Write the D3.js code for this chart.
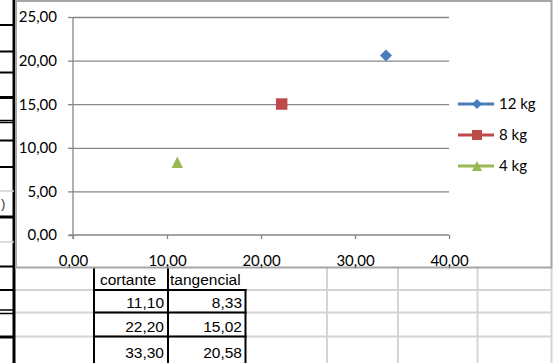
<!DOCTYPE html>
<html><head><meta charset="utf-8">
<script src="https://cdn.jsdelivr.net/npm/d3@7"></script>
<style>body{margin:0;background:#fff;overflow:hidden} svg{display:block}</style>
</head><body><svg id="c" width="558" height="363"></svg>
<script>
// ---- data ----
const seriesNames = ["12 kg", "8 kg", "4 kg"];
const cortante = [33.30, 22.20, 11.10];     // x values per series
const tangencial = [20.58, 15.02, 8.33];    // y values per series
const seriesColors = ["#4a7ebb", "#be4b48", "#98b954"];
const xTicks = [0, 10, 20, 30, 40];
const yTicks = [0, 5, 10, 15, 20, 25];
const tableHeader = ["cortante", "tangencial"];
const tableCortante = [11.10, 22.20, 33.30];
const tableTangencial = [8.33, 15.02, 20.58];

const svg = d3.select("#c");
const loc = d3.formatLocale({decimal: ",", thousands: ".", grouping: [3], currency: ["", ""]});
const fmt = loc.format(".2f");
const axisFont = "Lato, 'DejaVu Sans', sans-serif";
const cellFont = "'Liberation Sans', Arial, sans-serif";

// ---- spreadsheet background ----
const sheet = svg.append("g");
// light grid
[290, 312.5, 336.5].forEach(y => sheet.append("line").attr("x1", 15).attr("x2", 552).attr("y1", y).attr("y2", y).attr("stroke", "#d4d4d4").attr("stroke-width", 2));
[327, 398, 477.5, 551.5].forEach(x => sheet.append("line").attr("x1", x).attr("x2", x).attr("y1", 268).attr("y2", 363).attr("stroke", "#d4d4d4").attr("stroke-width", 2));
// left row-header remnants
sheet.append("line").attr("x1", 14).attr("x2", 14).attr("y1", 0).attr("y2", 363).attr("stroke", "#000").attr("stroke-width", 3);
[[25,2],[51.5,2],[72.5,2],[97.5,3],[120.5,1.5],[122.5,1.5],[140.5,2],[167,2],[217,3],[266.5,2],[290,2],[310,1.5],[313.5,1.5],[337,3]].forEach(([y, w]) =>
  sheet.append("line").attr("x1", 0).attr("x2", 14).attr("y1", y).attr("y2", y).attr("stroke", "#000").attr("stroke-width", w));
sheet.append("line").attr("x1", 0).attr("x2", 14).attr("y1", 191).attr("y2", 191).attr("stroke", "#d0d0d0").attr("stroke-width", 1.5);
sheet.append("line").attr("x1", 0).attr("x2", 14).attr("y1", 242).attr("y2", 242).attr("stroke", "#d0d0d0").attr("stroke-width", 1.5);
sheet.append("text").attr("x", 1).attr("y", 208).attr("font-family", cellFont).attr("font-size", 13).attr("fill", "#333").text(")");

// table borders
const tb = sheet.append("g").attr("stroke", "#000").attr("stroke-width", 2);
tb.append("line").attr("x1", 94).attr("x2", 94).attr("y1", 268).attr("y2", 363);
tb.append("line").attr("x1", 168).attr("x2", 168).attr("y1", 268).attr("y2", 363);
tb.append("line").attr("x1", 245.5).attr("x2", 245.5).attr("y1", 289).attr("y2", 363);
[290, 312.5, 336.5].forEach(y => tb.append("line").attr("x1", 93).attr("x2", 246.5).attr("y1", y).attr("y2", y));
// table text
sheet.append("text").attr("x", 100).attr("y", 285).attr("font-family", cellFont).attr("font-size", 15.5).text(tableHeader[0]);
sheet.append("text").attr("x", 170).attr("y", 285).attr("font-family", cellFont).attr("font-size", 15.5).text(tableHeader[1]);
const rowBase = [308, 331.5, 358];
tableCortante.forEach((v, i) => {
  sheet.append("text").attr("x", 164).attr("y", rowBase[i]).attr("text-anchor", "end").attr("font-family", cellFont).attr("font-size", 15.5).text(fmt(v));
  sheet.append("text").attr("x", 242).attr("y", rowBase[i]).attr("text-anchor", "end").attr("font-family", cellFont).attr("font-size", 15.5).text(fmt(tableTangencial[i]));
});

// ---- chart box ----
svg.append("rect").attr("x", 16).attr("y", 1).attr("width", 535.5).attr("height", 266.5)
  .attr("fill", "#fff").attr("stroke", "#a6a6a6").attr("stroke-width", 2);

const x = d3.scaleLinear().domain([0, 40]).range([73, 449]);
const y = d3.scaleLinear().domain([0, 25]).range([235, 17]);
const grey = "#868686";

// gridlines
svg.append("g").attr("transform", `translate(${x(0)},0)`)
  .call(d3.axisLeft(y).tickValues(yTicks.filter(d => d > 0)).tickSize(-(x(40) - x(0))).tickFormat(""))
  .call(g => g.select(".domain").remove())
  .call(g => g.selectAll("line").attr("stroke", grey).attr("stroke-width", 1.3));

// y axis
svg.append("g").attr("transform", `translate(${x(0)},0)`)
  .call(d3.axisLeft(y).tickValues(yTicks).tickSize(5).tickPadding(11).tickFormat(fmt).tickSizeOuter(0))
  .call(g => g.select(".domain").attr("stroke", grey).attr("stroke-width", 1.3).attr("d", `M0,${y(25)}V${y(0) + 4}`))
  .call(g => g.selectAll("line").attr("stroke", grey).attr("stroke-width", 1.3))
  .call(g => g.selectAll("text").attr("font-family", axisFont).attr("font-size", 15).attr("fill", "#000"));

// x axis
svg.append("g").attr("transform", `translate(0,${y(0)})`)
  .call(d3.axisBottom(x).tickValues(xTicks).tickSize(4).tickPadding(16).tickFormat(fmt).tickSizeOuter(0))
  .call(g => g.select(".domain").attr("stroke", grey).attr("stroke-width", 1.3).attr("d", `M${x(0) - 4},0H${x(40)}`))
  .call(g => g.selectAll("line").attr("stroke", grey).attr("stroke-width", 1.3))
  .call(g => g.selectAll("text").attr("font-family", axisFont).attr("font-size", 15).attr("fill", "#000"));

// markers
const diamond = {draw(ctx, size) { const r = Math.sqrt(size) / 2; ctx.moveTo(0, -r); ctx.lineTo(r, 0); ctx.lineTo(0, r); ctx.lineTo(-r, 0); ctx.closePath(); }};
const square = {draw(ctx, size) { const r = Math.sqrt(size) / 2; ctx.rect(-r, -r, 2 * r, 2 * r); }};
const triangle = {draw(ctx, size) { const r = Math.sqrt(size) / 2; ctx.moveTo(0, -r); ctx.lineTo(r, r); ctx.lineTo(-r, r); ctx.closePath(); }};
const symbolTypes = [diamond, square, triangle];
const plotSizes = [12 * 12, 11.5 * 11.5, 11.5 * 11.5];

seriesNames.forEach((name, i) => {
  svg.append("path")
    .attr("d", d3.symbol().type(symbolTypes[i]).size(plotSizes[i])())
    .attr("transform", `translate(${x(cortante[i])},${y(tangencial[i])})`)
    .attr("fill", seriesColors[i]);
});

// legend
const legY = [104, 135, 166];
const legSizes = [10 * 10, 10 * 10, 10 * 10];
seriesNames.forEach((name, i) => {
  const g = svg.append("g").attr("transform", `translate(0,${legY[i]})`);
  g.append("line").attr("x1", 458).attr("x2", 494).attr("y1", 0).attr("y2", 0).attr("stroke", seriesColors[i]).attr("stroke-width", 3);
  g.append("path").attr("d", d3.symbol().type(symbolTypes[i]).size(legSizes[i])()).attr("transform", "translate(477,0)").attr("fill", seriesColors[i]);
  g.append("text").attr("x", 499).attr("y", 0).attr("dy", "0.35em").attr("font-family", axisFont).attr("font-size", 15).text(name);
});
</script></body></html>
